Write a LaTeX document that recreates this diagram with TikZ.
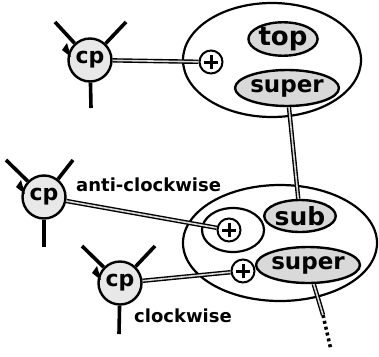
\documentclass[tikz,border=0pt]{standalone}
\usepackage{fontspec}
\setmainfont{DejaVu Sans}
\usetikzlibrary{shapes.geometric}
\newcommand{\fsz}[1]{\fontsize{#1}{#1}\selectfont\bfseries}
\tikzset{
  cpnode/.style={circle, draw, line width=2.4pt, fill=gray!18, minimum size=43pt, inner sep=0pt, font=\fsz{22}},
  plusnode/.style={circle, draw, line width=2pt, fill=white, minimum size=23pt, inner sep=0pt,
    path picture={\draw[line width=3pt]
      ([xshift=-7pt]path picture bounding box.center) -- ([xshift=7pt]path picture bounding box.center)
      ([yshift=-7pt]path picture bounding box.center) -- ([yshift=7pt]path picture bounding box.center);}},
  bigell/.style={ellipse, draw, line width=2.2pt, inner sep=0pt},
  tagell/.style={ellipse, draw, line width=2.4pt, fill=gray!30, inner sep=0pt},
  leg/.style={line width=3.6pt},
  wire/.style={line width=1.4pt, double=gray!30, double distance=1.6pt},
  dotwire/.style={line width=3.5pt, dash pattern=on 3pt off 3pt},
  lbl/.style={font=\fsz{18}, inner sep=0pt, anchor=base west},
}
\begin{document}
\begin{tikzpicture}[x=1pt, y=-1pt]
\useasboundingbox (0,0) rectangle (379,356);

% upper assembly
\node[bigell, minimum width=178pt, minimum height=114pt] (E1) at (272,60) {};
\node[tagell, minimum width=66pt, minimum height=28pt, font=\fsz{26}] (top) at (283,39) {top};
\node[tagell, minimum width=88pt, minimum height=36pt, font=\fsz{23}] (supA) at (287,88) {super};
\node[plusnode] (plusA) at (211,62) {};

% lower assembly
\node[bigell, minimum width=194pt, minimum height=116pt] (E2) at (280,243) {};
\node[bigell, minimum width=62pt, minimum height=44pt] (inner) at (233,230) {};
\node[plusnode] (plusB) at (229,230) {};
\node[tagell, minimum width=56pt, minimum height=32pt, font=\fsz{25}] (sub) at (300,216) {sub};
\node[tagell, minimum width=78pt, minimum height=36pt, font=\fsz{23}] (supB) at (308,265) {super};
\node[plusnode] (plusC) at (243,271) {};

% control points
\node[cpnode] (cpA) at (90,60) {cp};
\node[cpnode] (cpB) at (44,197) {cp};
\node[cpnode] (cpC) at (120,283) {cp};

% legs of each control point
\coordinate (aUL) at (55,22);  \coordinate (aUR) at (126,22);  \coordinate (aB) at (91,108);
\coordinate (bUL) at (6,160);  \coordinate (bUR) at (73,160);  \coordinate (bB) at (44,247);
\coordinate (cUL) at (82,246); \coordinate (cUR) at (155,246); \coordinate (cB) at (119,334);
\foreach \n/\a/\b/\c in {cpA/aUL/aUR/aB, cpB/bUL/bUR/bB, cpC/cUL/cUR/cB}{
  \draw[leg] (\n) -- (\a);
  \draw[leg] (\n) -- (\b);
  \draw[leg] (\n) -- (\c);
  \fill ([shift={(-28,-10)}]\n.center) -- ([shift={(-23,-17)}]\n.center)
        -- ([shift={(-19,-3)}]\n.center) -- cycle;
}

% connections
\draw[wire] (cpA) -- (plusA);
\draw[wire] (cpB) -- (plusB);
\draw[wire] (cpC) -- (plusC);
\draw[wire] (supA) -- (sub);
\coordinate (cont) at (323,315);
\coordinate (tail) at (331,350);
\draw[wire] (supB) -- (cont);
\draw[dotwire] (cont) -- (tail);

% direction labels
\node[lbl] (acw) at (76,191) {anti-clockwise};
\node[lbl] (cw) at (134,322) {clockwise};
\end{tikzpicture}
\end{document}
